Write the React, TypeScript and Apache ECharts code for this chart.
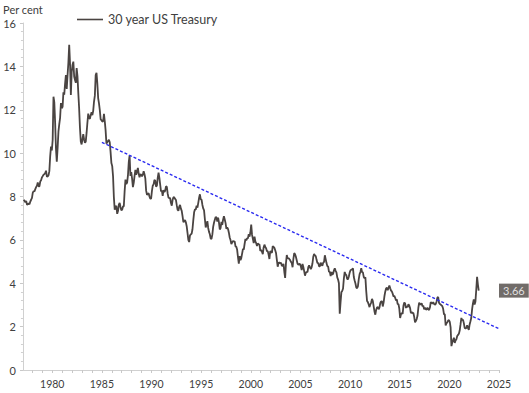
import React, { useEffect, useRef } from "react";
import * as echarts from "echarts";

// 30-year US Treasury yield, monthly, starting Feb 1977 (per cent)
const firstYear = 1977;
const firstMonth = 2;
const monthlyYield: number[] = [
  // 1977 (Feb-Dec)
  7.85, 7.8, 7.73, 7.8, 7.62, 7.64, 7.68, 7.64, 7.77, 7.85, 7.94,
  // 1978
  8.18, 8.25, 8.23, 8.34, 8.43, 8.5, 8.65, 8.47, 8.47, 8.69, 8.75, 8.88,
  // 1979
  8.94, 9.0, 9.03, 9.08, 9.19, 8.92, 8.93, 8.98, 9.17, 9.85, 10.3, 10.12,
  // 1980
  10.6, 12.6, 12.34, 11.4, 10.2, 9.6, 10.24, 11.0, 11.34, 11.63, 12.31, 12.07,
  // 1981
  12.14, 12.8, 12.69, 13.2, 13.6, 12.96, 13.59, 14.17, 15.0, 14.13, 12.68, 13.73,
  // 1982
  14.07, 14.22, 13.53, 13.37, 13.24, 13.92, 13.55, 12.77, 12.07, 11.17, 10.54, 10.4,
  // 1983
  10.63, 10.88, 10.63, 10.48, 10.53, 10.93, 11.4, 11.82, 11.63, 11.58, 11.75, 11.88,
  // 1984
  11.75, 11.95, 12.38, 12.65, 13.6, 13.7, 13.21, 12.54, 12.29, 11.98, 11.56, 11.52,
  // 1985
  11.45, 11.47, 11.81, 11.47, 11.05, 10.44, 10.5, 10.56, 10.61, 10.5, 10.06, 9.54,
  // 1986
  9.4, 8.93, 7.96, 7.39, 7.52, 7.57, 7.2, 7.33, 7.62, 7.7, 7.52, 7.37,
  // 1987
  7.39, 7.54, 7.55, 8.25, 8.78, 8.57, 8.64, 8.97, 9.59, 9.9, 8.95, 9.12,
  // 1988
  8.83, 8.43, 8.63, 8.95, 9.23, 9.0, 9.14, 9.32, 9.06, 8.89, 9.02, 9.01,
  // 1989
  8.93, 9.01, 9.17, 9.03, 8.83, 8.27, 8.08, 8.12, 8.15, 8.0, 7.9, 7.9,
  // 1990
  8.26, 8.5, 8.56, 8.76, 8.73, 8.46, 8.5, 8.86, 9.1, 8.86, 8.54, 8.24,
  // 1991
  8.27, 8.03, 8.29, 8.21, 8.27, 8.47, 8.45, 8.14, 7.95, 7.93, 7.92, 7.7,
  // 1992
  7.58, 7.85, 7.97, 7.96, 7.89, 7.84, 7.6, 7.39, 7.34, 7.53, 7.61, 7.44,
  // 1993
  7.34, 7.09, 6.82, 6.85, 6.92, 6.81, 6.63, 6.32, 6.0, 5.9, 6.21, 6.25,
  // 1994
  6.29, 6.49, 6.91, 7.27, 7.41, 7.4, 7.58, 7.49, 7.71, 7.94, 8.1, 7.87,
  // 1995
  7.85, 7.61, 7.45, 7.36, 6.95, 6.57, 6.72, 6.86, 6.55, 6.37, 6.26, 6.06,
  // 1996
  6.05, 6.24, 6.6, 6.79, 6.93, 7.06, 7.03, 6.84, 7.03, 6.81, 6.48, 6.55,
  // 1997
  6.83, 6.69, 6.93, 7.09, 6.94, 6.77, 6.51, 6.58, 6.5, 6.33, 6.11, 5.99,
  // 1998
  5.81, 5.89, 5.95, 5.92, 5.93, 5.7, 5.68, 5.54, 5.2, 4.9, 5.25, 5.06,
  // 1999
  5.16, 5.37, 5.58, 5.55, 5.81, 6.04, 5.98, 6.07, 6.07, 6.26, 6.15, 6.35,
  // 2000
  6.7, 6.23, 6.05, 5.85, 6.15, 5.93, 5.85, 5.72, 5.83, 5.8, 5.78, 5.49,
  // 2001
  5.54, 5.45, 5.34, 5.65, 5.78, 5.67, 5.61, 5.48, 5.48, 5.32, 5.12, 5.48,
  // 2002
  5.45, 5.4, 5.71, 5.67, 5.64, 5.52, 5.39, 5.08, 4.76, 4.93, 4.96, 4.92,
  // 2003
  4.94, 4.81, 4.8, 4.9, 4.53, 4.25, 4.93, 5.3, 5.14, 5.16, 5.12, 5.07,
  // 2004
  4.99, 4.93, 4.74, 5.14, 5.39, 5.34, 5.22, 5.06, 4.9, 4.85, 4.89, 4.88,
  // 2005
  4.77, 4.61, 4.89, 4.75, 4.56, 4.35, 4.48, 4.53, 4.51, 4.74, 4.83, 4.73,
  // 2006
  4.65, 4.73, 4.91, 5.22, 5.35, 5.29, 5.25, 5.08, 4.93, 4.94, 4.78, 4.78,
  // 2007
  4.95, 4.85, 4.81, 4.95, 4.98, 5.29, 5.11, 4.93, 4.79, 4.77, 4.52, 4.53,
  // 2008
  4.33, 4.52, 4.39, 4.44, 4.6, 4.69, 4.57, 4.5, 4.27, 4.17, 4.0, 2.6,
  // 2009
  3.13, 3.59, 3.64, 3.76, 4.23, 4.52, 4.41, 4.37, 4.19, 4.19, 4.31, 4.49,
  // 2010
  4.6, 4.62, 4.64, 4.69, 4.29, 4.13, 3.99, 3.8, 3.77, 3.87, 4.19, 4.42,
  // 2011
  4.52, 4.7, 4.51, 4.5, 4.29, 4.23, 4.27, 3.65, 3.18, 3.13, 3.02, 2.9,
  // 2012
  3.03, 3.11, 3.28, 3.18, 2.93, 2.7, 2.55, 2.77, 2.88, 2.9, 2.8, 2.88,
  // 2013
  3.08, 3.17, 3.16, 2.93, 3.11, 3.4, 3.61, 3.76, 3.79, 3.68, 3.8, 3.89,
  // 2014
  3.77, 3.66, 3.62, 3.52, 3.39, 3.42, 3.33, 3.2, 3.26, 3.04, 3.04, 2.83,
  // 2015
  2.4, 2.57, 2.63, 2.59, 2.96, 3.11, 3.07, 2.86, 2.95, 2.89, 3.03, 2.97,
  // 2016
  2.86, 2.62, 2.68, 2.62, 2.63, 2.45, 2.2, 2.26, 2.35, 2.5, 2.86, 3.11,
  // 2017
  3.02, 3.03, 3.08, 2.94, 2.96, 2.8, 2.88, 2.8, 2.78, 2.88, 2.8, 2.77,
  // 2018
  2.88, 3.13, 3.09, 3.07, 3.13, 3.05, 3.01, 3.04, 3.15, 3.34, 3.36, 3.1,
  // 2019
  3.04, 3.02, 2.98, 2.94, 2.82, 2.57, 2.57, 2.05, 2.16, 2.19, 2.28, 2.3,
  // 2020
  2.22, 1.97, 1.1, 1.27, 1.38, 1.49, 1.25, 1.36, 1.42, 1.57, 1.62, 1.67,
  // 2021
  1.82, 2.1, 2.4, 2.3, 2.32, 2.16, 1.94, 1.92, 1.94, 2.06, 1.94, 1.85,
  // 2022
  2.1, 2.25, 2.41, 2.81, 3.07, 3.25, 3.02, 3.15, 3.7, 4.3, 3.94, 3.66,
];

// trend line end points: [year, per cent]
const trendStart: [number, number] = [1985, 10.5];
const trendEnd: [number, number] = [2025, 1.9];

const yearTickLabels = [1980, 1985, 1990, 1995, 2000, 2005, 2010, 2015, 2020, 2025];
const yearMinorTicks = Array.from({ length: 48 }, (_, i) => 1978 + i);

const seriesName = "30 year US Treasury";

export default function App() {
  const ref = useRef<HTMLDivElement>(null);

  useEffect(() => {
    if (!ref.current) return;
    const chart = echarts.init(ref.current, null, { renderer: "svg" });
    const lineData = monthlyYield.map((v, i) => {
      const m = firstMonth - 1 + i;
      return [firstYear + (m + 0.5) / 12, v];
    });
    const last = monthlyYield[monthlyYield.length - 1];
    const font = "Lato, 'Open Sans', sans-serif";
    const lineColor = "#4a4442";

    chart.setOption({
      animation: false,
      backgroundColor: "#ffffff",
      textStyle: { fontFamily: font },
      grid: { left: 22, right: 30, top: 23, bottom: 23 },
      legend: {
        data: [{ name: seriesName, icon: "rect", itemStyle: { color: lineColor } }],
        left: 72,
        top: 8,
        itemWidth: 26,
        itemHeight: 1.6,
        itemGap: 6,
        textStyle: { fontSize: 12.5, color: "#404040", fontFamily: font },
      },
      xAxis: {
        type: "value",
        min: 1977.05,
        max: 2025,
        splitLine: { show: false },
        axisLine: { show: true, lineStyle: { color: "#d0d0d0", width: 1 } },
        axisTick: {
          show: true,
          length: 3,
          customValues: yearMinorTicks,
          lineStyle: { color: "#c8c8c8" },
        },
        axisLabel: {
          customValues: yearTickLabels,
          formatter: (v: number) => String(Math.round(v)),
          fontSize: 10.5,
          color: "#404040",
          margin: 8,
          fontFamily: font,
        },
      },
      yAxis: {
        type: "value",
        min: 0,
        max: 16,
        interval: 2,
        name: "Per cent",
        nameLocation: "end",
        nameGap: 8,
        nameTextStyle: { fontSize: 11, color: "#404040", fontFamily: font, align: "center" },
        splitLine: { show: false },
        axisLine: { show: true, lineStyle: { color: "#d0d0d0", width: 1 } },
        axisTick: { show: true, length: 3, lineStyle: { color: "#c8c8c8" } },
        minorTick: { show: true, splitNumber: 5, length: 2, lineStyle: { color: "#d0d0d0" } },
        axisLabel: { fontSize: 11, color: "#404040", margin: 7, fontFamily: font },
      },
      series: [
        {
          name: seriesName,
          type: "line",
          data: lineData,
          symbol: "none",
          lineStyle: { color: lineColor, width: 1.8 },
          itemStyle: { color: lineColor },
          z: 3,
        },
        {
          name: "Trend",
          type: "line",
          data: [trendStart, trendEnd],
          symbol: "none",
          lineStyle: { color: "#2a2af0", width: 1.4, type: [3, 2] },
          z: 4,
        },
        {
          name: "Last",
          type: "scatter",
          data: [[2025, last]],
          symbolSize: 0,
          clip: false,
          label: {
            show: true,
            position: "right",
            distance: 0,
            formatter: (p: any) => p.value[1].toFixed(2),
            backgroundColor: "#4d4744",
            color: "#ffffff",
            fontSize: 11,
            padding: [2, 4, 1, 4],
            fontFamily: font,
          },
          z: 5,
        },
      ],
    });
    return () => chart.dispose();
  }, []);

  return (
    <div
      ref={ref}
      style={{ position: "fixed", left: 0, top: 0, width: 529, height: 393 }}
    />
  );
}
